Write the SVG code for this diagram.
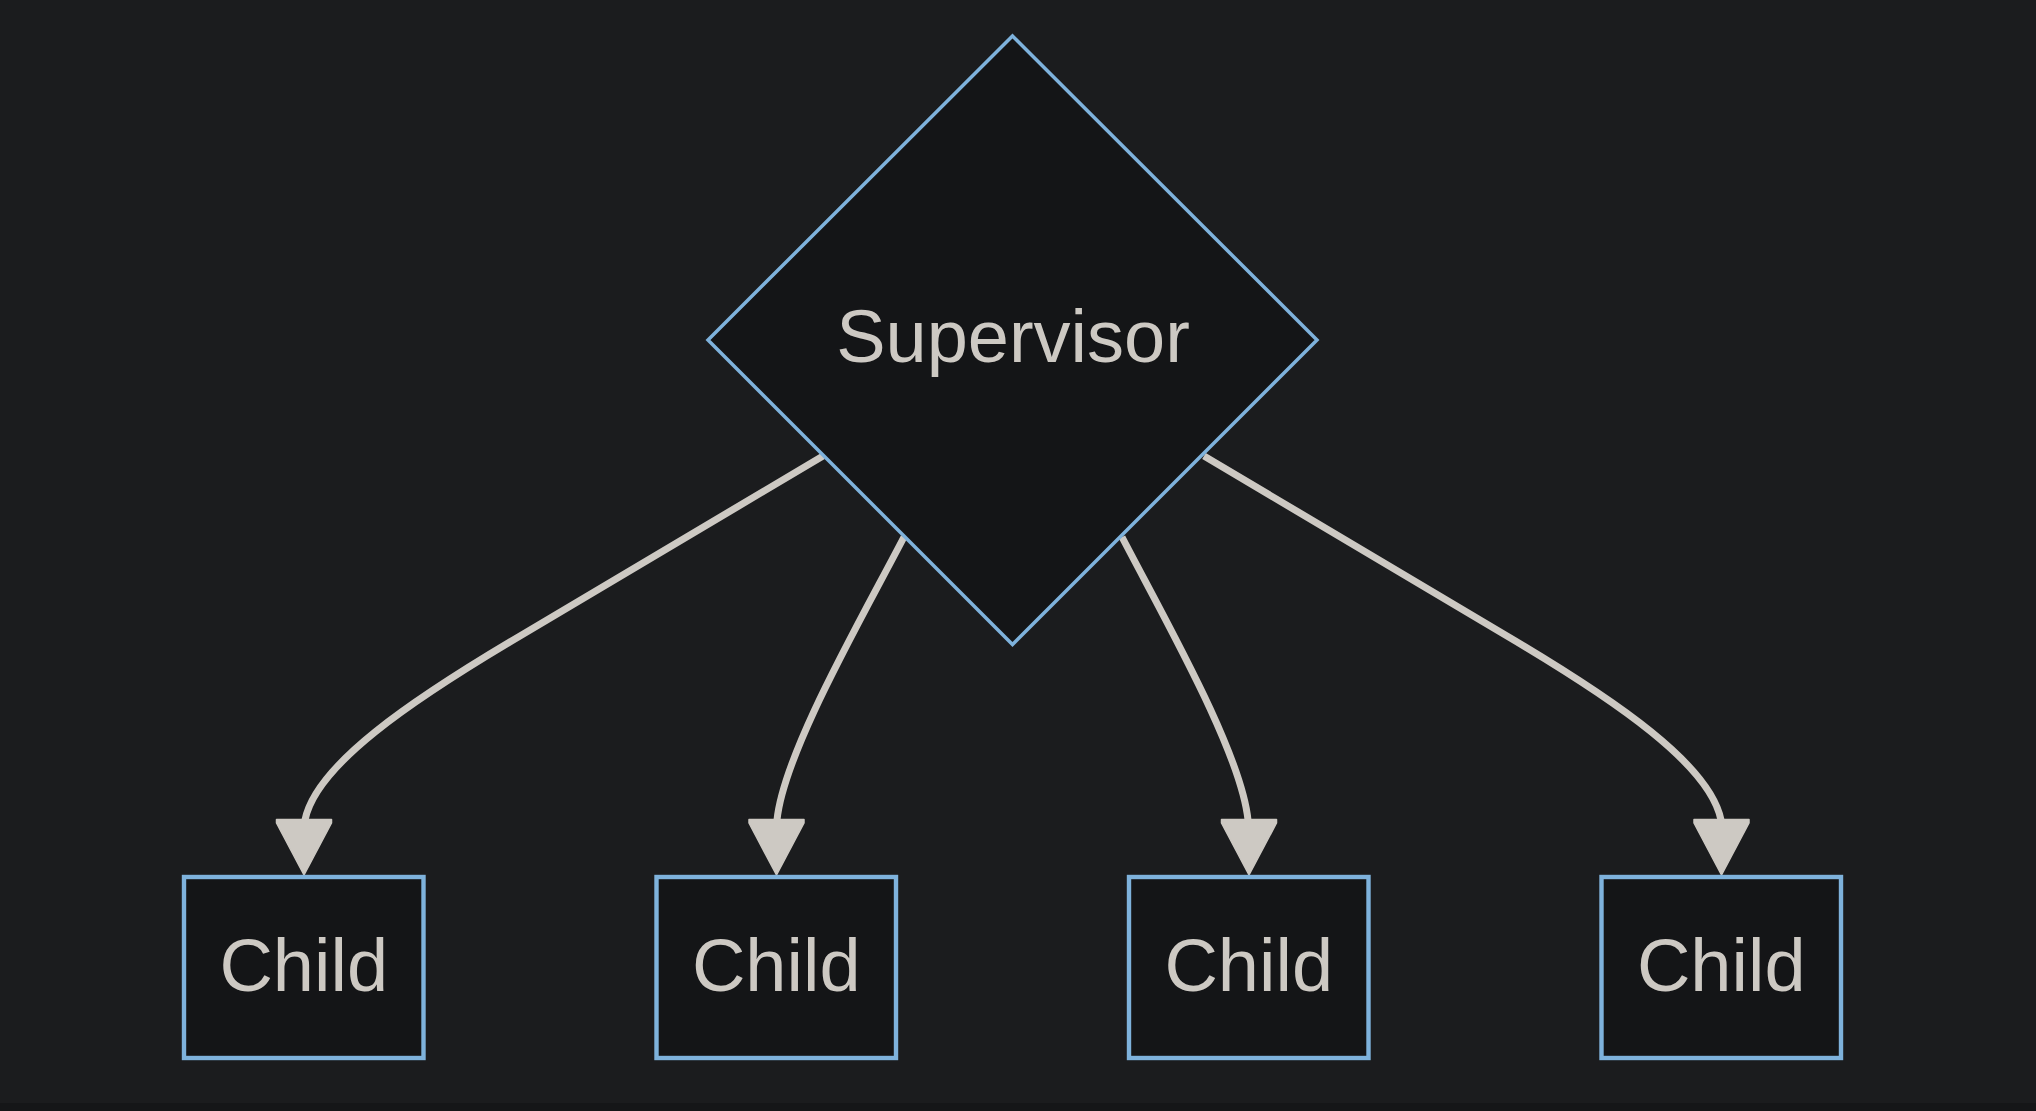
<svg xmlns="http://www.w3.org/2000/svg" xmlns:xlink="http://www.w3.org/1999/xlink" width="2036" height="1111" viewBox="0 0 2036 1111">
  <style>
    .node { fill: #141517; stroke: #7eb2dc; }
    .box { stroke-width: 4.4; }
    .dia { stroke-width: 3.5; }
    .label { font-family: "Liberation Sans", Arial, sans-serif; font-size: 74px; fill: #cdc9c3; text-anchor: middle; }
    .edge { fill: none; stroke: #cdc9c3; stroke-width: 7; }
    .head { fill: #cdc9c3; stroke: #cdc9c3; stroke-width: 1.5; stroke-linejoin: round; }
  </style>
  <defs>
    <path id="arrowhead" class="head" d="M-27.5,0.5 L27.5,0.5 L27.5,4 L0,56 L-27.5,4 Z"/>
  </defs>
  <rect x="0" y="0" width="2036" height="1111" fill="#1b1c1e"/>
  <rect x="0" y="1103" width="2036" height="8" fill="#151618"/>

  <g id="connectors">
    <path class="edge" d="M823,456 L520,636 C410,701 316,765 305,820"/>
    <path class="edge" d="M904,537 C862,618 784,752 777,820"/>
    <path class="edge" d="M1122,537 C1164,618 1241,752 1248,820"/>
    <path class="edge" d="M1204,456 L1507,636 C1617,701 1710,765 1721,820"/>
    <use xlink:href="#arrowhead" href="#arrowhead" x="304" y="819"/>
    <use xlink:href="#arrowhead" href="#arrowhead" x="776.5" y="819"/>
    <use xlink:href="#arrowhead" href="#arrowhead" x="1249" y="819"/>
    <use xlink:href="#arrowhead" href="#arrowhead" x="1721.5" y="819"/>
  </g>

  <g id="supervisor">
    <polygon class="node dia" points="1012.5,36 1317,340 1012.5,644.5 708,340"/>
    <text class="label" x="1013" y="362">Supervisor</text>
  </g>

  <g id="child1">
    <rect class="node box" x="184" y="877" width="239.5" height="181"/>
    <text class="label" x="303.75" y="991">Child</text>
  </g>
  <g id="child2">
    <rect class="node box" x="656.5" y="877" width="239.5" height="181"/>
    <text class="label" x="776.25" y="991">Child</text>
  </g>
  <g id="child3">
    <rect class="node box" x="1129" y="877" width="239.5" height="181"/>
    <text class="label" x="1248.75" y="991">Child</text>
  </g>
  <g id="child4">
    <rect class="node box" x="1601.5" y="877" width="239.5" height="181"/>
    <text class="label" x="1721.25" y="991">Child</text>
  </g>
</svg>
